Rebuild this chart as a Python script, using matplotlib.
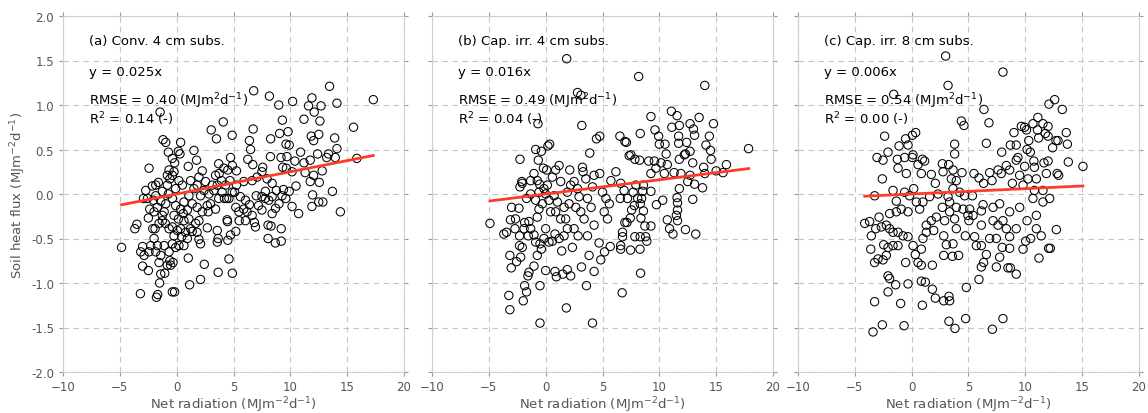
import numpy as np
import matplotlib
matplotlib.use("Agg")
import matplotlib.pyplot as plt

# net radiation (MJ m-2 d-1), soil heat flux (MJ m-2 d-1) pairs
POINTS_A = [
    (6.78, 1.16), (13.45, 1.21), (17.3, 1.06), (8.16, 1.10), (11.9, 1.08), (10.2, 1.04), (14.1, 1.02),
    (8.98, 1.0), (11.6, 0.99), (12.7, 0.99), (12.1, 0.92), (-1.46, 0.92), (11.2, 0.84), (12.6, 0.82),
    (9.3, 0.83), (4.1, 0.81), (3.04, 0.72), (6.73, 0.73), (15.56, 0.75), (3.5, 0.62), (4.88, 0.66),
    (6.4, 0.60), (8.27, 0.62), (9.06, 0.68), (9.8, 0.70), (11.84, 0.65), (12.5, 0.67), (13.9, 0.63),
    (12.05, 0.60), (-1.2, 0.61), (-0.96, 0.58), (0.35, 0.58), (-2.43, 0.29), (-0.73, 0.47), (0.15, 0.48),
    (0.29, 0.45), (1.52, 0.49), (-0.38, 0.40), (-0.18, 0.35), (1.75, 0.38), (1.02, 0.31), (2.25, 0.26),
    (3.74, 0.23), (4.74, 0.41), (6.5, 0.50), (6.26, 0.39), (6.7, 0.33), (7.57, 0.30), (8.25, 0.42),
    (9.18, 0.41), (9.62, 0.56), (9.9, 0.55), (9.7, 0.42), (10.9, 0.47), (10.4, 0.37), (11.2, 0.35),
    (11.75, 0.38), (12.4, 0.45), (13.2, 0.41), (13.95, 0.41), (14.1, 0.51), (13.36, 0.45), (15.85, 0.40),
    (9.33, 0.30), (9.65, 0.29), (10.15, 0.25), (11.3, 0.24), (12.05, 0.21), (12.8, 0.26), (11.75, 0.14),
    (12.55, 0.13), (10.5, 0.09), (9.9, 0.03), (13.7, 0.03), (11.96, -0.01), (10.15, -0.14), (11.9, -0.14),
    (12.5, -0.09), (12.86, -0.09), (10.73, -0.22), (14.4, -0.20), (9.2, -0.39), (8.68, -0.55), (9.2, -0.53),
    (8.04, -0.50), (8.04, -0.35), (8.3, -0.36), (8.4, -0.22), (8.7, -0.16), (9.0, -0.11), (8.1, -0.07),
    (7.5, -0.03), (7.0, -0.02), (7.8, 0.03), (8.77, 0.04), (9.4, 0.05), (6.64, 0.15), (7.08, 0.19),
    (7.5, 0.25), (7.95, 0.17), (8.4, 0.12), (6.84, -0.32), (6.93, -0.37), (6.05, -0.30), (5.5, -0.30),
    (6.4, -0.12), (6.05, -0.07), (5.6, -0.03), (5.1, 0.02), (5.26, 0.10), (5.9, 0.14), (4.68, 0.15),
    (5.26, 0.26), (4.5, 0.27), (4.15, 0.29), (3.7, 0.34), (4.9, 0.32), (5.2, -0.15), (5.2, -0.42),
    (4.74, -0.46), (4.44, -0.29), (4.4, -0.05), (4.2, -0.05), (3.7, -0.05), (4.6, -0.73), (4.9, -0.89),
    (3.65, -0.88), (2.43, -0.79), (2.1, -0.96), (1.14, -1.02), (1.02, -0.72), (2.1, -0.56), (1.96, -0.51),
    (2.7, -0.38), (3.57, -0.41), (3.65, -0.50), (3.57, -0.54), (4.5, -0.52), (4.47, -0.31), (2.78, -0.20),
    (2.25, -0.20), (1.8, -0.15), (1.37, -0.11), (1.96, -0.30), (1.67, -0.33), (1.23, -0.39), (0.79, -0.43),
    (0.44, -0.48), (0.2, -0.58), (-0.09, -0.60), (-0.38, -0.56), (-0.23, -0.47), (-0.67, -0.39), (-1.0, -0.33),
    (-1.1, -0.58), (-0.67, -0.65), (-0.6, -0.75), (-0.32, -0.77), (-0.82, -0.80), (-0.53, -0.80), (-1.4, -0.69),
    (-1.55, -0.77), (-1.84, -0.65), (-1.7, -0.58), (-1.99, -0.50), (-2.1, -0.39), (-1.9, -0.39), (-2.28, -0.58),
    (-2.43, -0.65), (-3.0, -0.59), (-3.16, -0.65), (-3.0, -0.81), (-2.87, -0.69), (-2.49, -0.86), (-3.19, -1.12),
    (-1.78, -1.16), (-1.67, -1.13), (-1.5, -1.0), (-1.4, -0.90), (-1.05, -0.89), (-0.38, -1.10), (-0.18, -1.10),
    (-4.85, -0.60), (-3.68, -0.39), (-3.5, -0.34), (-2.49, -0.27), (-2.37, -0.17), (-2.72, 0.04), (-2.57, -0.05),
    (-2.92, -0.05), (-2.14, 0.09), (-1.84, 0.10), (-1.61, 0.13), (-1.84, -0.02), (-1.26, 0.03), (-1.4, -0.08),
    (-2.05, -0.07), (-1.99, -0.20), (-1.7, -0.15), (-1.26, -0.24), (-1.1, -0.20), (-1.26, -0.30), (-1.55, -0.33),
    (-0.96, -0.11), (-0.73, 0.0), (-0.82, 0.10), (-0.6, 0.17), (-0.38, 0.21), (-0.67, 0.27), (-0.82, 0.21),
    (-0.23, 0.25), (0.2, 0.15), (0.5, 0.10), (-0.09, 0.06), (-0.38, -0.05), (-0.09, -0.13), (0.35, -0.17),
    (-0.23, -0.24), (0.15, -0.28), (0.58, -0.22), (0.94, -0.18), (0.64, -0.09), (1.08, -0.02), (1.52, 0.06),
    (1.8, 0.10), (1.23, 0.15), (1.96, 0.19), (2.54, 0.14), (2.4, 0.04), (2.1, -0.02), (2.84, 0.0),
    (3.13, 0.10), (3.42, 0.21), (3.27, 0.04), (2.98, -0.11), (2.69, -0.13), (3.42, -0.17), (3.57, 0.10),
    (3.95, 0.15), (4.3, 0.10), (4.0, 0.02), (4.6, -0.05), (4.88, 0.02), (5.47, -0.20), (5.9, -0.17),
    (6.2, -0.20), (6.64, -0.24), (7.2, -0.13), (7.5, -0.18), (7.8, -0.05), (8.4, -0.03), (9.27, -0.02),
    (9.6, -0.05), (0.64, -0.30), (1.08, -0.28), (0.35, -0.39), (0.06, -0.41), (-0.38, -0.37), (0.94, -0.50),
    (0.64, -0.58), (1.8, -0.43), (1.37, -0.42),
]

POINTS_B = [
    (1.85, 1.52), (8.18, 1.32), (14.0, 1.22), (2.8, 1.14), (3.1, 1.11), (-0.68, 0.79), (3.18, 0.77),
    (9.26, 0.87), (11.06, 0.93), (11.56, 0.88), (11.1, 0.75), (11.76, 0.77), (12.7, 0.79), (13.5, 0.86),
    (14.76, 0.79), (13.0, 0.73), (13.1, 0.66), (14.4, 0.65), (9.62, 0.72), (9.94, 0.65), (8.32, 0.68),
    (6.53, 0.65), (6.97, 0.59), (7.1, 0.58), (4.47, 0.62), (4.76, 0.65), (0.2, 0.54), (0.35, 0.56),
    (-0.88, 0.50), (-0.38, 0.48), (-2.26, 0.39), (-0.65, 0.38), (3.88, 0.46), (7.5, 0.44), (7.35, 0.43),
    (7.85, 0.39), (8.26, 0.38), (10.0, 0.56), (10.5, 0.56), (10.6, 0.45), (11.7, 0.57), (11.7, 0.65),
    (12.4, 0.58), (12.3, 0.45), (12.2, 0.44), (12.7, 0.48), (14.1, 0.55), (14.5, 0.49), (14.56, 0.39),
    (17.85, 0.51), (15.9, 0.33), (15.6, 0.24), (15.0, 0.26), (13.9, 0.30), (14.0, 0.23), (12.94, 0.35),
    (11.76, 0.39), (10.7, 0.33), (10.15, 0.35), (9.56, 0.37), (9.06, 0.37), (9.7, 0.29), (9.26, 0.23),
    (10.44, 0.23), (11.3, 0.24), (11.9, 0.23), (12.7, 0.21), (13.1, 0.11), (13.8, 0.07), (12.5, 0.14),
    (11.76, 0.06), (11.56, -0.04), (11.6, -0.10), (12.94, -0.06), (11.6, -0.18), (11.5, -0.24), (11.6, -0.30),
    (10.7, -0.29), (10.9, -0.39), (11.2, -0.45), (12.3, -0.40), (13.2, -0.45), (10.3, -0.07), (9.74, -0.12),
    (9.26, 0.03), (8.6, 0.10), (8.53, 0.03), (8.44, -0.05), (8.32, -0.11), (8.38, -0.27), (8.6, -0.19),
    (9.26, -0.36), (8.73, -0.36), (7.85, -0.48), (8.32, -0.48), (8.8, -0.48), (8.9, -0.53), (8.3, -0.62),
    (7.47, -0.63), (8.35, -0.89), (6.73, -1.11), (6.97, -0.32), (7.15, -0.32), (7.44, -0.27), (7.56, -0.18),
    (6.76, -0.43), (6.76, -0.48), (6.6, -0.58), (6.6, -0.62), (5.68, -0.59), (5.18, -0.65), (4.7, -0.55),
    (4.85, -0.74), (4.26, -0.87), (4.12, -1.45), (3.82, -0.69), (3.59, -1.03), (3.15, -0.82), (2.2, -0.92),
    (1.9, -0.85), (1.5, -0.90), (1.41, -0.64), (0.94, -0.93), (0.82, -0.87), (1.82, -1.28), (-0.5, -1.45),
    (-0.5, -1.03), (0.0, -0.86), (-3.15, -1.30), (-3.24, -1.14), (-1.97, -1.20), (-1.85, -1.03), (-1.68, -1.10),
    (-1.56, -0.92), (-1.47, -0.88), (-1.03, -0.81), (-3.03, -0.83), (-3.15, -0.69), (-2.56, -0.76), (-2.2, -0.71),
    (-2.06, -0.60), (-2.3, -0.58), (-3.68, -0.45), (-4.9, -0.33), (-3.1, -0.29), (-3.0, -0.15), (-2.35, -0.16),
    (-2.65, -0.28), (-2.7, -0.39), (-2.3, -0.47), (-1.9, -0.39), (-1.85, -0.32), (-1.47, -0.31), (-1.32, -0.39),
    (-1.53, -0.47), (-1.03, -0.46), (-0.88, -0.54), (-0.74, -0.69), (-0.38, -0.62), (-0.5, -0.56), (-0.15, -0.50),
    (0.29, -0.54), (0.59, -0.53), (0.82, -0.45), (1.18, -0.50), (0.0, -0.39), (-0.74, -0.26), (-0.59, -0.17),
    (-0.88, -0.07), (-1.32, 0.0), (-1.68, -0.05), (-2.1, 0.14), (-2.26, 0.08), (-2.06, 0.12), (-1.32, 0.15),
    (-1.03, 0.23), (-0.74, 0.15), (-0.53, 0.11), (-0.59, 0.02), (-0.15, 0.06), (0.0, 0.0), (0.29, -0.07),
    (-0.29, -0.11), (0.44, -0.20), (0.88, -0.20), (1.32, -0.28), (1.76, -0.28), (1.62, -0.15), (2.06, -0.11),
    (1.03, -0.09), (0.74, -0.02), (0.15, 0.10), (-0.2, 0.29), (0.09, 0.27), (0.59, 0.19), (0.88, 0.27),
    (1.18, 0.32), (1.32, 0.14), (1.91, 0.02), (2.2, 0.10), (2.12, 0.27), (2.5, 0.14), (2.8, 0.06),
    (2.94, -0.03), (2.65, -0.15), (3.09, -0.20), (3.29, 0.25), (3.24, 0.30), (3.53, 0.17), (3.68, -0.05),
    (4.0, -0.15), (4.12, 0.08), (4.26, 0.21), (4.76, 0.23), (5.0, 0.02), (5.3, -0.05), (5.6, -0.11),
    (5.15, -0.20), (5.44, -0.28), (5.74, 0.15), (6.18, 0.25), (6.6, 0.12), (6.9, 0.04), (6.56, -0.05),
    (7.2, -0.05), (7.7, 0.02), (7.94, 0.10), (8.1, -0.05), (7.8, -0.13), (2.5, -0.39), (2.85, -0.47),
    (3.68, -0.47), (4.26, -0.35), (3.38, -0.28), (2.35, -0.60), (1.62, -0.47), (1.91, -0.39), (-3.44, -0.43),
]

POINTS_C = [
    (2.99, 1.55), (8.03, 1.37), (3.2, 1.22), (-1.58, 1.12), (12.58, 1.06), (12.08, 1.01), (13.25, 0.95),
    (6.36, 0.95), (6.8, 0.80), (4.37, 0.82), (4.6, 0.77), (11.1, 0.86), (10.67, 0.79), (11.55, 0.79),
    (12.0, 0.76), (9.65, 0.76), (9.94, 0.75), (9.0, 0.69), (10.1, 0.72), (11.07, 0.72), (11.76, 0.68),
    (12.0, 0.65), (13.6, 0.69), (13.7, 0.56), (12.87, 0.60), (12.7, 0.60), (12.4, 0.52), (11.17, 0.63),
    (10.3, 0.60), (9.2, 0.55), (8.68, 0.55), (10.15, 0.50), (10.44, 0.47), (7.92, 0.47), (6.57, 0.57),
    (3.78, 0.56), (3.78, 0.45), (0.35, 0.69), (0.06, 0.66), (-2.38, 0.65), (-0.53, 0.62), (-1.11, 0.54),
    (-0.32, 0.55), (-2.08, 0.47), (-3.05, 0.41), (-2.52, 0.38), (0.12, 0.44), (0.06, 0.41), (-1.26, 0.39),
    (-0.62, 0.41), (0.94, 0.39), (1.14, 0.37), (0.56, 0.33), (-1.2, 0.29), (-0.47, 0.23), (-2.58, 0.17),
    (-1.64, 0.04), (-3.26, -0.02), (-1.35, -0.08), (-0.62, 0.02), (-0.18, -0.02), (0.18, 0.06), (0.85, 0.23),
    (1.73, 0.22), (2.08, 0.12), (2.7, 0.34), (3.26, 0.33), (2.76, 0.25), (3.49, 0.17), (3.93, 0.15),
    (4.43, 0.24), (3.64, 0.27), (5.48, 0.23), (5.92, 0.18), (6.33, 0.12), (7.07, 0.15), (6.86, 0.24),
    (7.6, 0.27), (7.88, 0.23), (8.33, 0.32), (8.62, 0.27), (9.2, 0.38), (9.35, 0.41), (9.94, 0.31),
    (10.8, 0.30), (10.75, 0.37), (11.64, 0.35), (12.0, 0.37), (11.85, 0.23), (12.8, 0.23), (12.93, 0.21),
    (13.78, 0.36), (15.07, 0.31), (10.97, 0.17), (10.23, 0.17), (9.5, 0.21), (8.86, 0.12), (9.8, 0.10),
    (10.8, 0.04), (11.55, 0.04), (10.67, -0.05), (11.55, -0.09), (12.14, -0.05), (9.5, -0.15), (8.62, -0.20),
    (7.74, -0.11), (7.16, -0.15), (6.28, -0.12), (5.1, -0.17), (6.13, -0.19), (5.34, -0.02), (4.66, -0.02),
    (4.22, 0.02), (3.64, 0.06), (3.2, -0.03), (3.34, -0.09), (2.7, -0.15), (2.32, 0.0), (1.58, -0.03),
    (0.99, -0.09), (0.7, -0.17), (0.41, -0.09), (-0.32, -0.20), (-0.91, -0.17), (-1.35, -0.20), (-1.94, -0.22),
    (-2.87, -0.26), (-3.7, -0.31), (-4.13, -0.33), (-3.55, -0.47), (-3.6, -0.62), (-3.16, -0.39), (-2.67, -0.37),
    (-2.23, -0.35), (-1.94, -0.39), (-1.64, -0.43), (-1.2, -0.43), (-0.76, -0.47), (-0.32, -0.48), (0.12, -0.58),
    (-2.46, -0.57), (-2.08, -0.60), (-1.64, -0.58), (-1.2, -0.58), (-2.23, -0.69), (-3.26, -0.77), (-2.96, -0.73),
    (-2.52, -0.74), (-2.08, -0.92), (-1.94, -0.95), (-2.08, -1.10), (-1.41, -1.02), (-3.26, -1.21), (-2.58, -1.47),
    (-3.4, -1.55), (-0.67, -1.48), (-0.97, -1.23), (-0.32, -1.01), (-0.53, -0.77), (0.32, -0.68), (0.56, -0.77),
    (0.85, -0.80), (0.85, -0.98), (1.2, -0.99), (0.94, -1.25), (1.82, -0.80), (1.82, -1.07), (2.08, -1.17),
    (2.82, -1.20), (3.28, -1.15), (3.34, -1.20), (3.28, -1.43), (3.81, -1.51), (4.75, -1.40), (4.81, -1.05),
    (2.82, -0.69), (3.58, -0.70), (4.13, -0.69), (3.05, -0.57), (3.64, -0.56), (2.82, -0.47), (1.94, -0.41),
    (1.29, -0.43), (0.85, -0.62), (0.99, -0.50), (1.29, -0.35), (1.73, -0.30), (2.17, -0.26), (2.9, -0.30),
    (3.34, -0.20), (3.78, -0.28), (3.93, -0.39), (4.72, -0.47), (5.04, -0.30), (5.54, -0.48), (5.69, -0.58),
    (6.13, -0.58), (6.57, -0.68), (6.13, -0.82), (6.33, -0.77), (5.92, -0.96), (7.1, -1.52), (8.03, -1.40),
    (7.45, -0.82), (7.74, -0.71), (8.47, -0.83), (8.68, -0.83), (9.2, -0.90), (9.8, -0.62), (10.03, -0.53),
    (10.47, -0.50), (11.2, -0.72), (11.4, -0.47), (10.97, -0.39), (10.97, -0.24), (10.15, -0.30), (9.2, -0.39),
    (8.62, -0.48), (8.33, -0.39), (8.03, -0.30), (7.6, -0.35), (7.16, -0.30), (6.86, -0.50), (7.45, -0.50),
    (7.97, -0.60), (8.62, -0.61), (12.05, -0.61), (12.2, -0.61), (12.73, -0.40), (6.13, -0.35), (5.4, -0.24),
    (4.95, -0.24), (4.52, -0.17), (3.93, -0.15),
]

TITLES = ["(a) Conv. 4 cm subs.", "(b) Cap. irr. 4 cm subs.", "(c) Cap. irr. 8 cm subs."]
SLOPES = [0.025, 0.016, 0.006]
RMSE = [0.40, 0.49, 0.54]
R2 = [0.14, 0.04, 0.00]

GREY = "#555555"
LIGHT = "#cfcfcf"

plt.rcParams.update({
    "font.family": "DejaVu Sans",
    "font.size": 9,
    "axes.edgecolor": LIGHT,
    "xtick.color": "#999999",
    "ytick.color": "#999999",
    "xtick.labelcolor": GREY,
    "ytick.labelcolor": GREY,
    "xtick.labelsize": 8.5,
    "ytick.labelsize": 8.5,
    "xtick.major.size": 3,
    "ytick.major.size": 3,
    "xtick.major.pad": 2.5,
})

fig = plt.figure(figsize=(11.48, 4.14), dpi=100)
lefts = [63 / 1148, 432 / 1148, 798 / 1148]
width = 341 / 1148
bottom = 1 - 373 / 414
height = 356 / 414

for i, pts in enumerate([POINTS_A, POINTS_B, POINTS_C]):
    ax = fig.add_axes([lefts[i], bottom, width, height])
    xy = np.array(pts)
    x, y = xy[:, 0], xy[:, 1]
    ax.grid(True, color="#c4c4c4", linestyle=(0, (5, 4)), linewidth=0.8)
    ax.set_axisbelow(True)
    ax.scatter(x, y, s=36, facecolors="none", edgecolors="black", linewidths=0.75, zorder=3)
    xl = np.array([x.min(), x.max()])
    ax.plot(xl, SLOPES[i] * xl, color="#ff3b28", linewidth=2, zorder=4)
    ax.set_xlim(-10, 20)
    ax.set_ylim(-2.0, 2.0)
    ax.set_xticks([-10, -5, 0, 5, 10, 15, 20])
    ax.set_yticks(np.arange(-2.0, 2.01, 0.5))
    ax.tick_params(top=True, right=True, direction="out")
    if i == 0:
        ax.yaxis.set_major_formatter(matplotlib.ticker.FormatStrFormatter("%.1f"))
        ax.set_ylabel("Soil heat flux (MJm$^{-2}$d$^{-1}$)", color=GREY, fontsize=9.5, labelpad=2)
    else:
        ax.tick_params(labelleft=False)
    ax.set_xlabel("Net radiation (MJm$^{-2}$d$^{-1}$)", color=GREY, fontsize=9.5, labelpad=1)
    tx = 0.075
    ax.text(tx, 0.93, TITLES[i], transform=ax.transAxes, fontsize=9.5, va="center")
    ax.text(tx, 0.845, f"y = {SLOPES[i]:.3f}x", transform=ax.transAxes, fontsize=9.5, va="center")
    ax.text(tx, 0.764, f"RMSE = {RMSE[i]:.2f} (MJm$^2$d$^{{-1}}$)", transform=ax.transAxes,
            fontsize=9.5, va="center")
    ax.text(tx, 0.712, f"R$^2$ = {R2[i]:.2f} (-)", transform=ax.transAxes, fontsize=9.5, va="center")

fig.savefig("out.png", dpi=100)
